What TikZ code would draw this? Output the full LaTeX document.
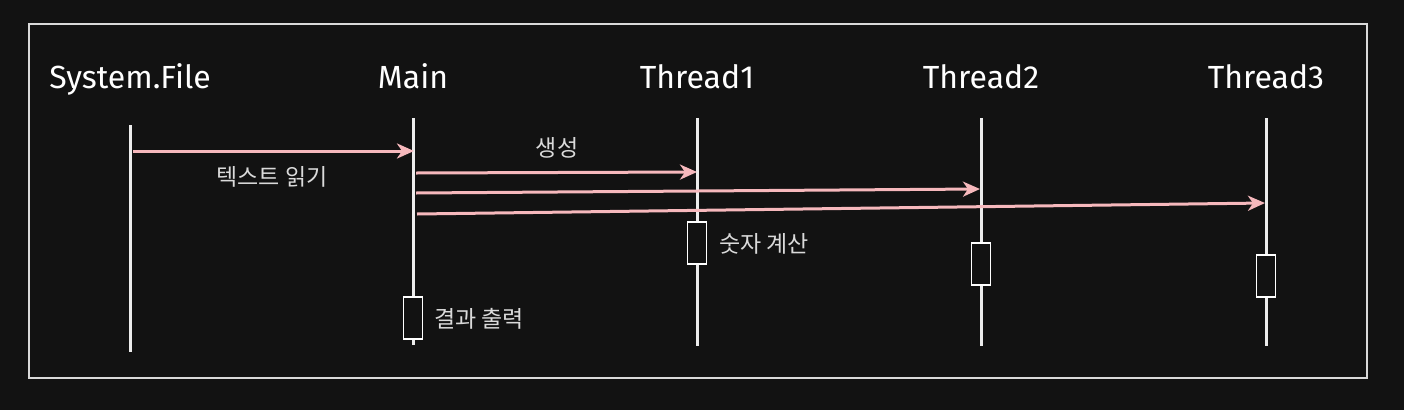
\documentclass[tikz,border=0pt]{standalone}
\usepackage{fontspec}
\setmainfont{Fira Sans}
\newfontfamily\kofont{Noto Sans CJK KR}
\usetikzlibrary{arrows.meta}
\definecolor{bgc}{HTML}{121212}
\definecolor{arc}{HTML}{F6B8BC}
\definecolor{lnc}{HTML}{ECECEC}
\definecolor{txc}{HTML}{DADADA}
\tikzset{
  head/.style={text=white,font=\fontsize{32}{34}\selectfont,inner sep=0pt,anchor=base},
  lifeline/.style={draw=lnc,line width=3pt},
  msg/.style={draw=arc,line width=3pt,-{Stealth[length=17pt,width=15pt,inset=5pt]}},
  actbox/.style={draw=white,line width=1.4pt,fill=bgc,minimum width=19pt,minimum height=42pt,inner sep=0pt},
  kolabel/.style={text=txc,font=\kofont\fontsize{23}{25}\selectfont,inner sep=0pt},
}
\begin{document}
\begin{tikzpicture}[x=1pt,y=-1pt]
\fill[bgc] (0,0) rectangle (1404,410);
\useasboundingbox (0,0) rectangle (1404,410);
\draw[draw=white!85!black,line width=1.2pt] (29,24) rectangle (1367,378);

% headers
\node[head] (hsf) at (130,88) {System.File};
\node[head] (hmain) at (413,88) {Main};
\node[head] (ht1) at (697,88) {Thread1};
\node[head] (ht2) at (981,88) {Thread2};
\node[head] (ht3) at (1266,88) {Thread3};

% lifeline endpoints
\coordinate (sfT) at (130,125); \coordinate (sfB) at (130,352);
\coordinate (mT) at (413,118);  \coordinate (mB) at (413,345);
\coordinate (t1T) at (697,118); \coordinate (t1B) at (697,346);
\coordinate (t2T) at (981,118); \coordinate (t2B) at (981,346);
\coordinate (t3T) at (1266,118); \coordinate (t3B) at (1266,346);

\draw[lifeline] (sfT) -- (sfB);
\draw[lifeline] (mT) -- (mB);
\draw[lifeline] (t1T) -- (t1B);
\draw[lifeline] (t2T) -- (t2B);
\draw[lifeline] (t3T) -- (t3B);

% message endpoints
\coordinate (a1s) at (133,151);  \coordinate (a1e) at (414,151);
\coordinate (a2s) at (416,173);  \coordinate (a2e) at (697,172);
\coordinate (a3s) at (416,193);  \coordinate (a3e) at (980,189);
\coordinate (a4s) at (417,214);  \coordinate (a4e) at (1265,203);

\draw[msg] (a1s) -- (a1e);
\draw[msg] (a2s) -- (a2e);
\draw[msg] (a3s) -- (a3e);
\draw[msg] (a4s) -- (a4e);

\node[kolabel] (l1) at (272,177) {텍스트 읽기};
\node[kolabel] (l2) at (557,148) {생성};

% activation boxes
\node[actbox] (b1) at (697,243) {};
\node[actbox] (b2) at (981,264) {};
\node[actbox] (b3) at (1266,276) {};
\node[actbox] (bm) at (413,318) {};

\node[kolabel,anchor=west] (l3) at (719,244) {숫자 계산};
\node[kolabel,anchor=west] (l4) at (434,319) {결과 출력};
\end{tikzpicture}
\end{document}
